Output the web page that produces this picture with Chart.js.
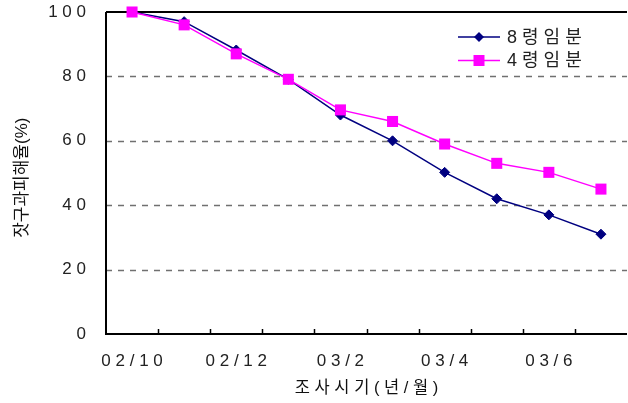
<!DOCTYPE html>
<html>
<head>
<meta charset="utf-8">
<script src="https://cdn.jsdelivr.net/npm/chart.js@4.4.1/dist/chart.umd.min.js"></script>
<style>
html,body{margin:0;padding:0;background:#fff;}
#wrap{width:628px;height:403px;position:relative;}
</style>
</head>
<body>
<div id="wrap"><canvas id="c" width="628" height="403"></canvas></div>
<script>
const categories = ['02/10','02/11','02/12','03/1','03/2','03/3','03/4','03/5','03/6','03/7'];
const series8 = [100, 97, 88.2, 79.1, 68, 60, 50.2, 42, 37, 31];
const series4 = [100, 96, 87, 79.1, 69.6, 66, 59, 53, 50.2, 45];
const seriesNames = ['8 령 임 분', '4 령 임 분'];
const yTicks = [0, 20, 40, 60, 80, 100];
const gridValues = [20, 40, 60, 80];
const yTitle = '잣구과피해율(%)  ';
const xTitle = '조 사 시 기 ( 년 / 월 )';

const FONT = "'Liberation Sans', 'Noto Sans CJK KR', sans-serif";
const spaced = s => String(s).split('').join(' ');

const framePlugin = {
  id: 'frame',
  beforeDatasetsDraw(chart) {
    const {ctx, chartArea: a, scales: {x, y}} = chart;
    ctx.save();
    ctx.strokeStyle = '#707070';
    ctx.lineWidth = 1.5;
    ctx.setLineDash([6, 6]);
    gridValues.forEach(v => {
      const py = Math.round(y.getPixelForValue(v)) + 0.5;
      ctx.beginPath(); ctx.moveTo(a.left, py); ctx.lineTo(a.right, py); ctx.stroke();
    });
    ctx.setLineDash([]);
    ctx.strokeStyle = '#000';
    ctx.lineWidth = 2;
    const top = y.getPixelForValue(100), bot = y.getPixelForValue(0);
    ctx.beginPath(); ctx.moveTo(a.left, top); ctx.lineTo(a.right, top); ctx.stroke();
    ctx.beginPath(); ctx.moveTo(a.left, top); ctx.lineTo(a.left, bot); ctx.lineTo(a.right, bot); ctx.stroke();
    ctx.lineWidth = 1.5;
    for (let i = 1; i < categories.length; i++) {
      const px = Math.round(x.getPixelForValue(i - 0.5)) + 0.5;
      ctx.beginPath(); ctx.moveTo(px, bot); ctx.lineTo(px, bot - 5); ctx.stroke();
    }
    ctx.restore();
  }
};

const legendPlugin = {
  id: 'customLegend',
  afterDraw(chart) {
    const {ctx, chartArea: a} = chart;
    const order = [0, 1];
    ctx.save();
    order.forEach((di, k) => {
      const ds = chart.data.datasets[di];
      const x0 = a.right - 169, y0 = a.top + 25 + k * 23.5;
      ctx.strokeStyle = ds.borderColor; ctx.lineWidth = 1.5;
      ctx.beginPath(); ctx.moveTo(x0, y0); ctx.lineTo(x0 + 42, y0); ctx.stroke();
      ctx.fillStyle = ds.pointBackgroundColor;
      ctx.beginPath();
      if (ds.pointStyle === 'rectRot') {
        const r = 5;
        ctx.moveTo(x0 + 21, y0 - r); ctx.lineTo(x0 + 21 + r, y0); ctx.lineTo(x0 + 21, y0 + r); ctx.lineTo(x0 + 21 - r, y0); ctx.closePath();
      } else {
        ctx.rect(x0 + 21 - 5.5, y0 - 5.5, 11, 11);
      }
      ctx.fill();
      ctx.fillStyle = '#222';
      ctx.font = '18px ' + FONT;
      ctx.textBaseline = 'middle';
      ctx.textAlign = 'left';
      ctx.fillText(ds.label, x0 + 49, y0 + 1);
    });
    ctx.restore();
  }
};

new Chart(document.getElementById('c'), {
  type: 'line',
  data: {
    labels: categories,
    datasets: [
      {
        label: seriesNames[0], data: series8, order: 2,
        borderColor: '#000080', backgroundColor: '#000080',
        pointBackgroundColor: '#000080', pointBorderColor: '#000080',
        pointStyle: 'rectRot', pointRadius: 5, pointBorderWidth: 1,
        borderWidth: 1.5, tension: 0, clip: false
      },
      {
        label: seriesNames[1], data: series4, order: 1,
        borderColor: '#FF00FF', backgroundColor: '#FF00FF',
        pointBackgroundColor: '#FF00FF', pointBorderColor: '#FF00FF',
        pointStyle: 'rect', pointRadius: 7.8, pointBorderWidth: 0,
        borderWidth: 1.5, tension: 0, clip: false
      }
    ]
  },
  options: {
    responsive: false,
    animation: false,
    layout: {autoPadding: false, padding: {top: 12, right: 1, left: 0, bottom: 0}},
    plugins: {legend: {display: false}, tooltip: {enabled: false}},
    scales: {
      x: {
        offset: true,
        grid: {display: false, drawTicks: false},
        border: {display: false},
        ticks: {
          autoSkip: false, maxRotation: 0, padding: 17, color: '#222',
          font: {family: FONT, size: 17},
          callback: function(v, i) { return i % 2 === 0 ? spaced(categories[i]) : ''; }
        },
        title: {display: true, text: xTitle, color: '#111', font: {family: FONT, size: 16.5}, padding: {top: 0, bottom: 5}},
        afterFit(s) { s.height = 69; s.paddingLeft = 0; s.paddingRight = 0; }
      },
      y: {
        min: 0, max: 100,
        grid: {display: false, drawTicks: false},
        border: {display: false},
        afterBuildTicks(s) { s.ticks = yTicks.map(v => ({value: v})); },
        ticks: {
          padding: 20, color: '#222',
          font: {family: FONT, size: 17},
          callback: v => spaced(v)
        },
        title: {display: true, text: yTitle, color: '#111', font: {family: FONT, size: 17}, padding: {top: 12, bottom: 0}},
        afterFit(s) { s.width = 106; s.paddingTop = 0; s.paddingBottom = 0; }
      }
    }
  },
  plugins: [framePlugin, legendPlugin]
});
</script>
</body>
</html>
